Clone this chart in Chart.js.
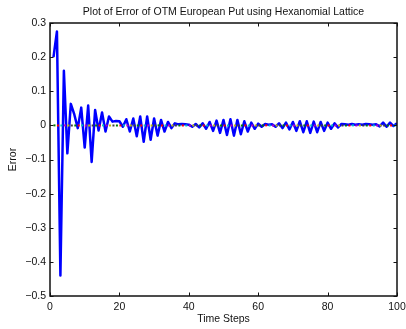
<!DOCTYPE html>
<html>
<head>
<meta charset="utf-8">
<title>Hexanomial lattice error</title>
<script src="https://cdn.jsdelivr.net/npm/chart.js@4"></script>
<style>
  html, body { margin: 0; padding: 0; background: #fff; }
  canvas { display: block; }
</style>
</head>
<body>
<canvas id="errorChart" width="406" height="329"></canvas>
<script>
// Number of time steps used in the lattice (1..100)
const steps = Array.from({ length: 100 }, (_, i) => i + 1);

// Pricing error (lattice price - Black-Scholes) for each step count
const errorValues = [
   0.200,  0.275, -0.440,  0.160, -0.082,  0.063,  0.032, -0.008,  0.052, -0.065,
   0.058, -0.107,  0.045, -0.015,  0.038, -0.018,  0.026,  0.011,  0.013,  0.012,
  -0.004,  0.018, -0.018,  0.020, -0.032,  0.026, -0.048,  0.026, -0.042,  0.020,
  -0.030,  0.016, -0.018,  0.010, -0.008,  0.006,  0.003,  0.004,  0.003,  0.002,
  -0.004,  0.004, -0.006,  0.006, -0.010,  0.010, -0.016,  0.014, -0.022,  0.016,
  -0.028,  0.018, -0.030,  0.016, -0.026,  0.012, -0.018,  0.008, -0.010,  0.005,
  -0.004,  0.004,  0.002,  0.003, -0.004,  0.006, -0.008,  0.008, -0.012,  0.010,
  -0.016,  0.012, -0.020,  0.012, -0.022,  0.011, -0.020,  0.010, -0.016,  0.008,
  -0.010,  0.006, -0.006,  0.004,  0.003,  0.002,  0.004,  0.002,  0.003,  0.002,
   0.004,  0.003,  0.002,  0.003, -0.003,  0.008, -0.004,  0.008, -0.002,  0.006
];

// Zero-error reference level
const referenceLevel = 0;

const xTicks = [0, 20, 40, 60, 80, 100];
const yTicks = [0.3, 0.2, 0.1, 0, -0.1, -0.2, -0.3, -0.4, -0.5];

// MATLAB colour order (minus blue) cycling along the reference line
const refColors = ['#008000', '#ff0000', '#00bfbf', '#bf00bf', '#bfbf00', '#404040'];

const chartTitle = 'Plot of Error of OTM European Put using Hexanomial Lattice';
const xTitle = 'Time Steps';
const yTitle = 'Error';

const FONT = '"Liberation Sans", Arial, Helvetica, sans-serif';
const TICK = 3.5;

function formatTick(v) {
    const r = Math.round(v * 10) / 10;
    if (r === 0) return '0';
    return (r < 0 ? '\u2212' : '') + Math.abs(r).toFixed(1);
}

// Box axes with inward ticks on all four sides, plus titles
const matlabFrame = {
    id: 'matlabFrame',
    afterDraw(chart) {
        const { ctx, chartArea: a, scales: { x, y } } = chart;
        ctx.save();
        ctx.strokeStyle = '#111';
        ctx.lineWidth = 1.5;
        ctx.strokeRect(a.left, a.top, a.right - a.left, a.bottom - a.top);

        ctx.lineWidth = 1;
        ctx.beginPath();
        xTicks.forEach(v => {
            const px = Math.round(x.getPixelForValue(v)) + 0.5;
            ctx.moveTo(px, a.bottom); ctx.lineTo(px, a.bottom - TICK);
            ctx.moveTo(px, a.top); ctx.lineTo(px, a.top + TICK);
        });
        yTicks.forEach(v => {
            const py = Math.round(y.getPixelForValue(v)) + 0.5;
            ctx.moveTo(a.left, py); ctx.lineTo(a.left + TICK, py);
            ctx.moveTo(a.right, py); ctx.lineTo(a.right - TICK, py);
        });
        ctx.stroke();

        ctx.fillStyle = '#111';
        ctx.font = '10.5px ' + FONT;
        ctx.textAlign = 'center';
        ctx.textBaseline = 'middle';
        const cx = (a.left + a.right) / 2;
        ctx.fillText(chartTitle, cx, 12.5);
        ctx.fillText(xTitle, cx, 319);
        ctx.translate(13, (a.top + a.bottom) / 2);
        ctx.rotate(-Math.PI / 2);
        ctx.fillText(yTitle, 0, 0);
        ctx.restore();
    }
};

const ctx = document.getElementById('errorChart').getContext('2d');

new Chart(ctx, {
    type: 'line',
    data: {
        labels: steps,
        datasets: [
            {
                label: 'Reference',
                data: steps.map(s => ({ x: s, y: referenceLevel })),
                borderWidth: 2,
                borderDash: [2, 1.47],
                borderColor: refColors[0],
                segment: {
                    borderColor: c => refColors[c.p0DataIndex % refColors.length]
                },
                pointRadius: 0,
                order: 0
            },
            {
                label: 'Error',
                data: steps.map((s, i) => ({ x: s, y: errorValues[i] })),
                borderColor: '#0000ff',
                borderWidth: 2.5,
                borderJoinStyle: 'round',
                pointRadius: 0,
                tension: 0,
                order: 1
            }
        ]
    },
    options: {
        responsive: false,
        animation: false,
        events: [],
        layout: { padding: { top: 23, right: 9, left: 0, bottom: 0 } },
        plugins: {
            legend: { display: false },
            title: { display: false },
            tooltip: { enabled: false }
        },
        scales: {
            x: {
                type: 'linear',
                min: 0,
                max: 100,
                afterBuildTicks: s => { s.ticks = xTicks.map(v => ({ value: v })); },
                afterFit: s => {
                    s.height = 33;
                    s.paddingLeft = 0;
                    s.paddingRight = 0;
                },
                grid: { display: false, drawTicks: false },
                border: { display: false },
                ticks: {
                    maxRotation: 0,
                    padding: 5,
                    color: '#111',
                    font: { family: FONT, size: 10.5 }
                }
            },
            y: {
                type: 'linear',
                min: -0.5,
                max: 0.3,
                afterBuildTicks: s => { s.ticks = yTicks.map(v => ({ value: v })); },
                afterFit: s => {
                    s.width = 50;
                    s.paddingTop = 0;
                    s.paddingBottom = 0;
                },
                grid: { display: false, drawTicks: false },
                border: { display: false },
                ticks: {
                    padding: 4,
                    color: '#111',
                    font: { family: FONT, size: 10.5 },
                    callback: v => formatTick(v)
                }
            }
        }
    },
    plugins: [matlabFrame]
});
</script>
</body>
</html>
